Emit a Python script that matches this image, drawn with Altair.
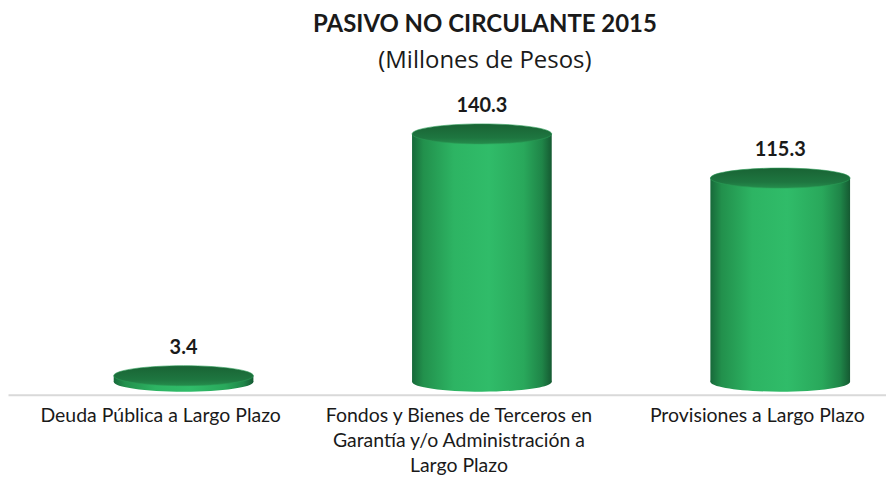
import altair as alt
import pandas as pd

categories = [
    "Deuda Pública a Largo Plazo",
    "Fondos y Bienes de Terceros en|Garantía y/o Administración a|Largo Plazo",
    "Provisiones a Largo Plazo",
]
values = [3.4, 140.3, 115.3]
labels = ["3.4", "140.3", "115.3"]

df = pd.DataFrame({"cat": categories, "value": values, "label": labels})

ELL = ("M-1,0 C-1,-0.0789 -0.5523,-0.1429 0,-0.1429 "
       "C0.5523,-0.1429 1,-0.0789 1,0 "
       "C1,0.0789 0.5523,0.1429 0,0.1429 "
       "C-0.5523,0.1429 -1,0.0789 -1,0 Z")

side_grad = alt.Gradient(
    gradient="linear", x1=0, x2=1, y1=0, y2=0,
    stops=[
        alt.GradientStop(offset=0.0, color="#17693a"),
        alt.GradientStop(offset=0.08, color="#22904c"),
        alt.GradientStop(offset=0.3, color="#2db463"),
        alt.GradientStop(offset=0.55, color="#30bc69"),
        alt.GradientStop(offset=0.8, color="#29a85b"),
        alt.GradientStop(offset=0.93, color="#1f8548"),
        alt.GradientStop(offset=1.0, color="#155a32"),
    ],
)
top_grad = alt.Gradient(
    gradient="linear", x1=0, x2=0, y1=0, y2=1,
    stops=[
        alt.GradientStop(offset=0.0, color="#196334"),
        alt.GradientStop(offset=0.7, color="#1e7640"),
        alt.GradientStop(offset=1.0, color="#258d4c"),
    ],
)

xenc = alt.X(
    "cat:N", sort=None, title=None,
    scale=alt.Scale(paddingInner=0.5, paddingOuter=0.2215, align=0.764),
    axis=alt.Axis(
        labelAngle=0, ticks=False, domainColor="#d9d9d9", domainWidth=2,
        labelFont="Lato", labelFontSize=19.5, labelColor="#1a1a1a",
        labelPadding=12, labelOffset=-23, labelLineHeight=25, labelLimit=0,
        labelExpr="split(datum.label, '|')",
    ),
)
yscale = alt.Scale(domain=[-7.34, 162.7], nice=False, zero=False)

base = alt.Chart(df)

bottom = base.mark_point(
    shape=ELL, size=19600, filled=True, fill=side_grad, opacity=1, strokeWidth=0
).encode(x=xenc, y=alt.YDatum(0, scale=yscale, axis=None))

side = base.mark_bar(size=140, fill=side_grad, clip=False).encode(
    x=xenc, y=alt.Y("value:Q", scale=yscale, axis=None), y2=alt.Y2Datum(0)
)

top = base.mark_point(
    shape=ELL, size=19600, filled=True, fill=top_grad, opacity=1,
    stroke="#2a9a55", strokeWidth=0.6,
).encode(x=xenc, y=alt.Y("value:Q", scale=yscale, axis=None))

text = base.mark_text(
    baseline="bottom", dy=-18, font="Lato", fontSize=20, fontWeight="bold", color="#1a1a1a"
).encode(x=xenc, y=alt.Y("value:Q", scale=yscale, axis=None), text="label:N")

chart = alt.layer(bottom, side, top, text).properties(
    width=880, height=301,
    title=alt.TitleParams(
        text="PASIVO NO CIRCULANTE 2015",
        subtitle="(Millones de Pesos)",
        font="Lato", fontSize=24, fontWeight="bold", color="#1a1a1a",
        subtitleFont="Open Sans", subtitleFontSize=24, subtitleColor="#1a1a1a",
        subtitlePadding=12, anchor="middle", dx=38, offset=21,
    ),
).configure(padding={"top": 5, "left": 0, "right": 0, "bottom": 0}).configure_view(stroke=None)

chart.save("out.html", embed_options={"renderer": "svg", "actions": False})
